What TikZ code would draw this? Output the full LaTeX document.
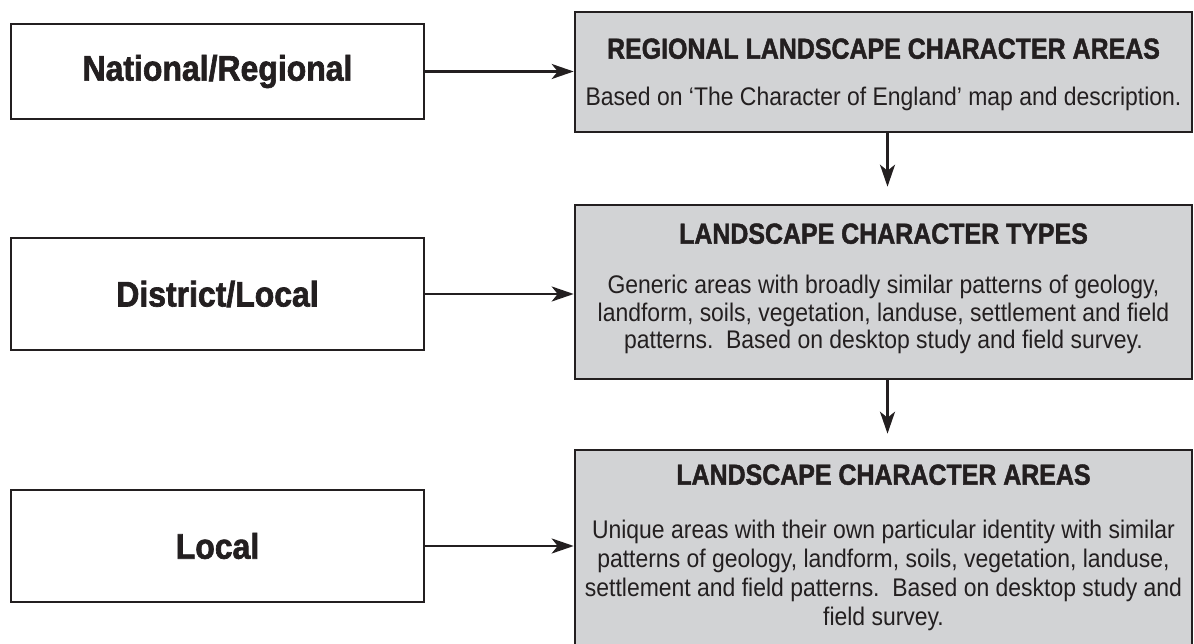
\documentclass[tikz,border=0pt]{standalone}
\usepackage{fontspec}
\setmainfont{Liberation Sans}
\newfontfamily\bodyfnt{Liberation Sans}[FakeStretch=0.9]
\newfontfamily\headfnt{Liberation Sans}[FakeStretch=0.86,FakeBold=1.6]
\newfontfamily\lblfnt{Liberation Sans}[FakeStretch=0.9,FakeBold=1.8]
\usetikzlibrary{arrows.meta,calc}
\definecolor{ink}{HTML}{231F20}
\definecolor{boxgray}{HTML}{D2D3D5}
\begin{document}
\begin{tikzpicture}[x=1pt,y=-1pt,
  lbox/.style={draw=ink, line width=2.6pt, fill=white, minimum width=413pt,
    minimum height=#1, inner sep=0pt, text=ink,
    font=\lblfnt\bfseries\fontsize{35.5}{40}\selectfont},
  rbox/.style={draw=ink, line width=2.6pt, fill=boxgray, minimum width=617pt,
    minimum height=#1, inner sep=0pt},
  headtxt/.style={anchor=base, inner sep=0pt, text=ink,
    font=\headfnt\bfseries\fontsize{29}{32}\selectfont},
  bodytxt/.style={anchor=base, inner sep=0pt, text=ink,
    font=\bodyfnt\fontsize{25.5}{28}\selectfont},
  arr/.style={draw=ink, line width=2.6pt,
    -{Stealth[length=22pt,width=15pt,inset=6pt]}}
]
\useasboundingbox (0,0) rectangle (1194,644);

% left boxes
\node[lbox=95pt]  (l1) at (217.5,71.5) {National/Regional};
\node[lbox=112pt] (l2) at (217.5,294)  {District/Local};
\node[lbox=112pt] (l3) at (217.5,546)  {Local};

% right boxes
\node[rbox=120pt] (r1) at (883.5,72)  {};
\node[rbox=174pt] (r2) at (883.5,292) {};
\node[rbox=196pt] (r3) at (883.5,548) {};

% texts in right boxes
\node[headtxt] (r1h) at ($(r1.north)+(0,48)$) {REGIONAL LANDSCAPE CHARACTER AREAS};
\node[bodytxt] (r1a) at ($(r1.north)+(0,95)$) {Based on ‘The Character of England’ map and description.};

\node[headtxt] (r2h) at ($(r2.north)+(0,40)$) {LANDSCAPE CHARACTER TYPES};
\node[bodytxt] (r2a) at ($(r2.north)+(0,90)$) {Generic areas with broadly similar patterns of geology,};
\node[bodytxt] (r2b) at ($(r2.north)+(0,117.5)$) {landform, soils, vegetation, landuse, settlement and field};
\node[bodytxt] (r2c) at ($(r2.north)+(0,145)$) {patterns.\ \ Based on desktop study and field survey.};

\node[headtxt] (r3h) at ($(r3.north)+(0,36)$) {LANDSCAPE CHARACTER AREAS};
\node[bodytxt] (r3a) at ($(r3.north)+(0,90)$) {Unique areas with their own particular identity with similar};
\node[bodytxt] (r3b) at ($(r3.north)+(0,119)$) {patterns of geology, landform, soils, vegetation, landuse,};
\node[bodytxt] (r3c) at ($(r3.north)+(0,148)$) {settlement and field patterns.\ \ Based on desktop study and};
\node[bodytxt] (r3d) at ($(r3.north)+(0,177)$) {field survey.};

% connectors
\draw[arr] (l1.east) -- (l1.east -| r1.west);
\draw[arr] (l2.east) -- (l2.east -| r2.west);
\draw[arr] (l3.east) -- (l3.east -| r3.west);
\draw[arr, shorten >=17pt] ([xshift=4pt]r1.south) -- ([xshift=4pt]r2.north);
\draw[arr, shorten >=15pt] ([xshift=4pt]r2.south) -- ([xshift=4pt]r3.north);
\end{tikzpicture}
\end{document}
